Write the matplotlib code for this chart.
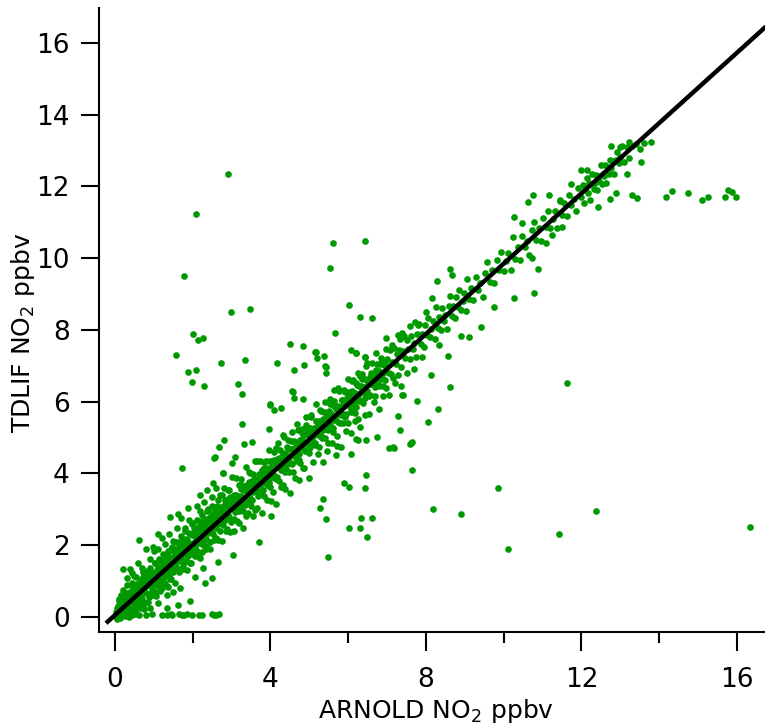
import matplotlib
matplotlib.use('Agg')
import matplotlib.pyplot as plt
import numpy as np

# fitted line (slope, intercept) and the x range it is drawn over
fit_slope = 0.98
fit_intercept = 0.05
fit_x = [-0.23, 17.5]

# dense band, x < 3
band_low = [
    (0.00, 0.02), (0.02, 0.15), (0.05, -0.05), (0.07, 0.30), (0.08, 0.10), (0.10, 0.45), (0.12, -0.02),
    (0.14, 0.22), (0.15, 0.60), (0.17, 0.05), (0.19, 0.35), (0.20, 0.15), (0.22, 0.75), (0.24, 0.28),
    (0.25, 0.05), (0.27, 0.50), (0.29, 0.40), (0.30, 0.18), (0.32, 0.88), (0.34, 0.30), (0.36, 0.55),
    (0.37, 0.12), (0.39, 0.70), (0.41, 0.45), (0.43, 0.25), (0.45, 0.95), (0.47, 0.60), (0.48, 0.38),
    (0.50, 0.78), (0.52, 0.20), (0.54, 0.55), (0.55, 1.10), (0.57, 0.70), (0.59, 0.45), (0.61, 0.88),
    (0.63, 0.30), (0.65, 0.65), (0.67, 1.02), (0.68, 0.80), (0.70, 0.50), (0.72, 1.25), (0.74, 0.72),
    (0.76, 0.95), (0.78, 0.40), (0.80, 0.85), (0.82, 1.15), (0.84, 0.65), (0.86, 1.00), (0.88, 0.55),
    (0.90, 1.35), (0.92, 0.90), (0.94, 1.10), (0.96, 0.75), (0.98, 1.20), (1.00, 0.95), (1.02, 1.50),
    (1.04, 0.70), (1.06, 1.05), (1.08, 1.30), (1.10, 0.85), (1.12, 1.15), (1.14, 1.62), (1.16, 1.00),
    (1.18, 1.35), (1.20, 0.80), (1.22, 1.25), (1.24, 1.75), (1.26, 1.10), (1.28, 1.45), (1.30, 0.95),
    (1.32, 1.60), (1.34, 1.30), (1.36, 1.85), (1.38, 1.15), (1.40, 1.50), (1.42, 1.05), (1.44, 1.40),
    (1.46, 1.95), (1.48, 1.62), (1.50, 1.25), (1.52, 1.80), (1.54, 1.45), (1.56, 2.10), (1.58, 1.35),
    (1.60, 1.70), (1.62, 1.55), (1.64, 1.95), (1.66, 1.25), (1.68, 1.85), (1.70, 2.25), (1.72, 1.60),
    (1.74, 1.45), (1.76, 2.00), (1.78, 1.75), (1.80, 2.40), (1.82, 1.55), (1.84, 1.90), (1.86, 2.15),
    (1.88, 1.70), (1.90, 2.05), (1.92, 1.50), (1.94, 2.30), (1.96, 1.85), (1.98, 2.60), (2.00, 2.05),
    (2.02, 1.75), (2.04, 2.35), (2.06, 1.95), (2.08, 2.20), (2.10, 2.70), (2.12, 1.85), (2.14, 2.40),
    (2.16, 2.10), (2.18, 1.65), (2.20, 2.55), (2.22, 2.25), (2.24, 2.85), (2.26, 2.00), (2.28, 2.45),
    (2.30, 2.15), (2.32, 2.70), (2.34, 1.90), (2.36, 2.55), (2.38, 2.95), (2.40, 2.35), (2.42, 2.65),
    (2.44, 2.10), (2.46, 2.80), (2.48, 2.45), (2.50, 3.10), (2.52, 2.30), (2.54, 2.70), (2.56, 2.55),
    (2.58, 2.95), (2.60, 2.20), (2.62, 2.80), (2.64, 3.25), (2.66, 2.60), (2.68, 2.90), (2.70, 2.40),
    (2.72, 3.05), (2.74, 2.75), (2.76, 3.40), (2.78, 2.55), (2.80, 2.95), (2.82, 3.15), (2.84, 2.70),
    (2.86, 3.00), (2.88, 2.45), (2.90, 3.30), (2.92, 2.85), (2.94, 3.55), (2.96, 3.05), (2.98, 2.65),
    (3.00, 3.20),
]

# dense band, 3 < x < 7.5
band_mid = [
    (3.02, 3.11), (3.05, 2.72), (3.07, 3.41), (3.09, 3.03), (3.12, 3.31), (3.14, 2.68), (3.16, 3.20),
    (3.19, 3.68), (3.21, 3.00), (3.23, 3.37), (3.26, 3.15), (3.28, 3.67), (3.30, 2.94), (3.33, 3.31),
    (3.35, 3.59), (3.37, 2.81), (3.40, 3.69), (3.42, 3.26), (3.44, 4.03), (3.47, 3.21), (3.49, 3.56),
    (3.51, 3.10), (3.54, 3.98), (3.56, 3.47), (3.58, 3.75), (3.61, 2.99), (3.63, 3.84), (3.65, 4.34),
    (3.68, 3.36), (3.70, 3.81), (3.72, 3.81), (3.75, 3.43), (3.77, 4.10), (3.79, 3.72), (3.82, 4.00),
    (3.84, 3.37), (3.86, 3.89), (3.89, 4.36), (3.91, 3.69), (3.93, 4.06), (3.96, 3.83), (3.98, 4.35),
    (4.00, 3.62), (4.03, 4.00), (4.05, 4.27), (4.07, 3.49), (4.10, 4.37), (4.12, 3.94), (4.14, 4.71),
    (4.17, 3.89), (4.19, 4.24), (4.21, 3.78), (4.24, 4.66), (4.26, 4.15), (4.28, 4.43), (4.31, 3.68),
    (4.33, 4.52), (4.35, 5.02), (4.38, 4.05), (4.40, 4.49), (4.42, 4.27), (4.45, 4.69), (4.47, 4.05),
    (4.49, 4.50), (4.52, 4.90), (4.54, 4.28), (4.56, 4.67), (4.59, 4.05), (4.61, 4.90), (4.63, 4.57),
    (4.66, 4.82), (4.68, 4.34), (4.70, 5.21), (4.73, 4.54), (4.75, 4.81), (4.77, 4.30), (4.80, 5.13),
    (4.82, 4.77), (4.84, 4.14), (4.87, 5.07), (4.89, 4.66), (4.91, 5.34), (4.94, 4.84), (4.96, 5.21),
    (4.98, 4.58), (5.01, 5.10), (5.03, 4.73), (5.05, 5.62), (5.08, 4.92), (5.10, 5.11), (5.12, 5.17),
    (5.15, 4.80), (5.17, 5.47), (5.19, 5.09), (5.22, 5.37), (5.24, 4.74), (5.26, 5.25), (5.29, 5.73),
    (5.31, 5.05), (5.33, 5.42), (5.36, 5.20), (5.38, 5.72), (5.40, 4.99), (5.43, 5.37), (5.45, 5.64),
    (5.47, 4.86), (5.50, 5.74), (5.52, 5.31), (5.54, 6.08), (5.57, 5.26), (5.59, 5.61), (5.61, 5.15),
    (5.64, 6.03), (5.66, 5.52), (5.68, 5.80), (5.71, 5.05), (5.73, 5.89), (5.75, 6.39), (5.78, 5.41),
    (5.80, 5.85), (5.82, 5.63), (5.85, 6.06), (5.87, 5.42), (5.89, 5.87), (5.92, 6.27), (5.94, 5.65),
    (5.96, 6.04), (5.99, 5.42), (6.01, 6.27), (6.03, 5.94), (6.06, 6.19), (6.08, 5.71), (6.10, 6.58),
    (6.13, 5.91), (6.15, 6.18), (6.17, 5.68), (6.20, 6.51), (6.22, 6.15), (6.24, 5.52), (6.27, 6.44),
    (6.29, 6.03), (6.31, 6.71), (6.34, 6.26), (6.36, 6.62), (6.38, 5.95), (6.41, 6.42), (6.43, 6.10),
    (6.45, 6.99), (6.48, 6.30), (6.50, 6.48), (6.53, 6.55), (6.56, 6.18), (6.59, 6.81), (6.62, 6.49),
    (6.65, 6.77), (6.68, 6.15), (6.71, 6.68), (6.74, 7.06), (6.77, 6.48), (6.80, 6.86), (6.83, 6.64),
    (6.86, 7.12), (6.89, 6.45), (6.92, 6.83), (6.95, 7.11), (6.98, 6.39), (7.01, 7.20), (7.04, 6.80),
    (7.07, 7.43), (7.10, 6.76), (7.13, 7.12), (7.16, 6.67), (7.19, 7.50), (7.22, 7.05), (7.25, 7.34),
    (7.28, 6.74), (7.31, 7.43), (7.34, 7.74), (7.37, 6.97), (7.40, 7.42), (7.45, 7.23), (7.50, 7.73),
]

# tight core of the band (the solid green strip next to the line)
band_core = [
    (0.05, 0.25), (0.08, 0.03), (0.11, 0.51), (0.14, 0.21), (0.17, 0.47), (0.20, 0.07), (0.23, 0.68),
    (0.26, 0.29), (0.29, 0.44), (0.32, 0.67), (0.35, 0.25), (0.38, 0.63), (0.41, 0.51), (0.44, 0.87),
    (0.47, 0.44), (0.50, 0.77), (0.53, 0.38), (0.56, 0.93), (0.59, 0.72), (0.62, 0.95), (0.65, 0.84),
    (0.68, 0.62), (0.71, 1.10), (0.74, 0.80), (0.77, 1.06), (0.80, 0.66), (0.83, 1.27), (0.86, 0.88),
    (0.89, 1.03), (0.92, 1.26), (0.95, 0.84), (0.98, 1.22), (1.01, 1.14), (1.04, 1.50), (1.07, 1.07),
    (1.10, 1.40), (1.13, 1.01), (1.16, 1.56), (1.19, 1.35), (1.22, 1.58), (1.25, 1.47), (1.28, 1.25),
    (1.31, 1.73), (1.34, 1.43), (1.37, 1.69), (1.40, 1.29), (1.43, 1.90), (1.46, 1.51), (1.49, 1.66),
    (1.52, 1.89), (1.55, 1.47), (1.58, 1.85), (1.61, 1.73), (1.64, 2.09), (1.67, 1.66), (1.70, 1.99),
    (1.73, 1.60), (1.76, 2.15), (1.79, 1.94), (1.82, 2.17), (1.85, 2.07), (1.88, 1.85), (1.91, 2.33),
    (1.94, 2.02), (1.97, 2.28), (2.00, 1.88), (2.03, 2.49), (2.06, 2.10), (2.09, 2.25), (2.12, 2.48),
    (2.15, 2.06), (2.18, 2.44), (2.21, 2.32), (2.24, 2.67), (2.27, 2.24), (2.30, 2.57), (2.33, 2.18),
    (2.36, 2.73), (2.39, 2.52), (2.42, 2.75), (2.45, 2.65), (2.48, 2.43), (2.51, 2.91), (2.54, 2.61),
    (2.57, 2.87), (2.60, 2.47), (2.63, 3.08), (2.66, 2.69), (2.69, 2.84), (2.72, 3.07), (2.75, 2.65),
    (2.78, 3.03), (2.81, 2.91), (2.84, 3.27), (2.87, 2.84), (2.90, 3.17), (2.93, 2.78), (2.96, 3.33),
    (2.99, 3.11), (3.02, 3.24), (3.05, 3.14), (3.08, 2.92), (3.11, 3.40), (3.14, 3.10), (3.17, 3.36),
    (3.20, 2.96), (3.23, 3.57), (3.26, 3.18), (3.29, 3.32), (3.32, 3.55), (3.35, 3.13), (3.38, 3.51),
    (3.41, 3.39), (3.44, 3.75), (3.47, 3.32), (3.50, 3.65), (3.53, 3.26), (3.56, 3.81), (3.59, 3.60),
    (3.62, 3.83), (3.65, 3.73), (3.68, 3.51), (3.71, 3.99), (3.74, 3.69), (3.77, 3.95), (3.80, 3.55),
    (3.83, 4.16), (3.86, 3.77), (3.89, 3.91), (3.92, 4.14), (3.95, 3.72), (3.98, 4.10), (4.01, 3.98),
    (4.04, 4.34), (4.07, 3.91), (4.10, 4.24), (4.13, 3.85), (4.16, 4.40), (4.19, 4.19), (4.22, 4.42),
    (4.25, 4.31), (4.28, 4.10), (4.31, 4.57), (4.34, 4.27), (4.37, 4.53), (4.40, 4.13), (4.43, 4.74),
    (4.46, 4.34), (4.49, 4.48), (4.52, 4.68), (4.55, 4.26), (4.58, 4.64), (4.61, 4.52), (4.64, 4.87),
    (4.67, 4.44), (4.70, 4.77), (4.73, 4.38), (4.76, 4.93), (4.79, 4.72), (4.82, 4.95), (4.85, 4.85),
    (4.88, 4.63), (4.91, 5.11), (4.94, 4.81), (4.97, 5.07), (5.00, 4.67), (5.03, 5.28), (5.06, 4.89),
    (5.09, 5.04), (5.12, 5.27), (5.15, 4.85), (5.18, 5.23), (5.21, 5.11), (5.24, 5.47), (5.27, 5.04),
    (5.30, 5.37), (5.33, 4.98), (5.36, 5.53), (5.39, 5.32), (5.42, 5.55), (5.45, 5.45), (5.48, 5.22),
    (5.51, 5.70), (5.54, 5.40), (5.57, 5.66), (5.60, 5.26), (5.63, 5.87), (5.66, 5.48), (5.69, 5.63),
    (5.72, 5.86), (5.75, 5.44), (5.78, 5.82), (5.81, 5.70), (5.84, 6.06), (5.87, 5.63), (5.90, 5.95),
    (5.93, 5.56), (5.96, 6.11), (5.99, 5.90), (6.02, 6.13), (6.05, 6.03), (6.08, 5.81), (6.11, 6.29),
    (6.14, 5.99), (6.17, 6.25), (6.20, 5.85), (6.23, 6.46), (6.26, 6.07), (6.29, 6.21), (6.32, 6.44),
    (6.35, 6.02), (6.38, 6.40), (6.41, 6.28), (6.44, 6.64), (6.47, 6.21), (6.50, 6.54), (6.53, 6.15),
    (6.56, 6.70), (6.59, 6.49), (6.62, 6.72), (6.65, 6.62), (6.68, 6.40), (6.71, 6.88), (6.74, 6.58),
    (6.77, 6.84), (6.80, 6.44), (6.83, 7.05), (6.86, 6.66), (6.89, 6.80), (6.92, 7.03), (6.95, 6.61),
    (6.98, 6.99),
]

# loose edge of the band on both sides
band_fringe = [
    (0.30, 1.09), (0.35, 0.00), (0.40, 1.34), (0.50, 1.14), (0.55, 0.25), (0.60, 1.49), (0.65, 0.26),
    (0.70, 1.36), (0.75, 0.23), (0.80, 1.88), (0.85, 0.42), (0.90, 1.61), (0.95, 0.62), (1.00, 1.83),
    (1.05, 0.59), (1.10, 1.88), (1.15, 0.73), (1.20, 2.21), (1.25, 0.90), (1.30, 2.02), (1.35, 0.87),
    (1.40, 2.32), (1.45, 1.07), (1.50, 2.12), (1.55, 0.94), (1.60, 2.47), (1.65, 1.33), (1.70, 2.77),
    (1.75, 1.34), (1.80, 2.49), (1.85, 1.30), (1.90, 2.71), (1.95, 1.50), (2.00, 2.63), (2.05, 1.70),
    (2.10, 3.09), (2.15, 1.67), (2.20, 2.96), (2.25, 1.81), (2.30, 3.20), (2.35, 1.97), (2.40, 3.00),
    (2.45, 1.90), (2.50, 3.35), (2.55, 2.15), (2.60, 3.60), (2.65, 2.15), (2.70, 3.40), (2.75, 2.13),
    (2.80, 3.59), (2.85, 2.39), (2.90, 3.55), (2.95, 2.36), (3.00, 3.89), (3.06, 2.40), (3.12, 3.86),
    (3.18, 2.62), (3.24, 3.85), (3.30, 2.48), (3.36, 4.19), (3.42, 2.90), (3.48, 4.01), (3.54, 2.82),
    (3.60, 4.36), (3.66, 3.04), (3.72, 4.36), (3.78, 2.90), (3.84, 4.31), (3.90, 3.25), (3.96, 4.65),
    (4.02, 3.24), (4.08, 4.60), (4.14, 3.16), (4.20, 4.85), (4.26, 3.62), (4.32, 5.08), (4.38, 3.56),
    (4.44, 4.92), (4.50, 3.46), (4.56, 5.15), (4.62, 3.88), (4.68, 5.39), (4.74, 3.82), (4.80, 5.25),
    (4.86, 4.16), (4.92, 5.57), (4.98, 3.88), (5.04, 5.57), (5.10, 4.33), (5.16, 5.93), (5.22, 4.55),
    (5.28, 5.77), (5.34, 4.33), (5.40, 6.00), (5.46, 4.62), (5.52, 5.94), (5.58, 4.84), (5.64, 6.33),
    (5.70, 4.76), (5.76, 6.29), (5.82, 4.75), (5.88, 6.33), (5.94, 5.17), (6.00, 6.63), (6.06, 5.14),
    (6.12, 6.60), (6.18, 5.46), (6.24, 6.79), (6.30, 5.30), (6.36, 6.78), (6.42, 5.62), (6.48, 7.08),
    (6.54, 5.66), (6.60, 7.07), (6.66, 5.98), (6.72, 7.36), (6.78, 5.81), (6.84, 7.23), (6.90, 6.15),
    (6.96, 7.47), (7.04, 6.20), (7.12, 7.58), (7.20, 6.51), (7.28, 7.86), (7.36, 6.44), (7.44, 7.84),
    (7.52, 6.80), (7.60, 8.10), (7.70, 6.90), (7.80, 8.14), (7.90, 7.24), (8.00, 8.51),
]

# band, x > 7.5
band_high = [
    (7.54, 7.48), (7.58, 7.18), (7.62, 7.84), (7.66, 7.48), (7.70, 7.65), (7.74, 7.24), (7.78, 7.89),
    (7.82, 8.16), (7.86, 7.60), (7.90, 7.89), (7.94, 7.53), (7.98, 8.15), (8.02, 7.86), (8.06, 8.33),
    (8.10, 7.79), (8.14, 8.03), (8.18, 8.25), (8.22, 7.76), (8.26, 8.64), (8.30, 8.06), (8.34, 8.37),
    (8.38, 8.01), (8.42, 8.62), (8.46, 8.26), (8.50, 8.43), (8.54, 8.02), (8.58, 8.68), (8.62, 8.95),
    (8.66, 8.39), (8.70, 8.68), (8.74, 8.32), (8.78, 8.93), (8.82, 8.64), (8.86, 9.11), (8.90, 8.57),
    (8.94, 8.81), (8.98, 9.03), (9.02, 8.54), (9.06, 9.43), (9.10, 8.85), (9.16, 9.18), (9.22, 8.84),
    (9.28, 9.47), (9.34, 9.12), (9.40, 9.31), (9.46, 8.92), (9.52, 9.60), (9.58, 9.89), (9.64, 9.35),
    (9.70, 9.66), (9.76, 9.31), (9.82, 9.95), (9.88, 9.68), (9.94, 10.17), (10.00, 9.65), (10.06, 9.91),
    (10.12, 10.15), (10.18, 9.68), (10.24, 10.59), (10.30, 9.98), (10.36, 10.30), (10.42, 9.96),
    (10.48, 10.62), (10.54, 10.30), (10.60, 10.49), (10.66, 10.10), (10.72, 10.78), (10.78, 11.01),
    (10.84, 10.52), (10.90, 10.83), (10.96, 10.49), (11.02, 11.13), (11.08, 10.86), (11.14, 11.32),
    (11.20, 10.83), (11.26, 11.08), (11.32, 11.32), (11.38, 10.85), (11.44, 11.61), (11.50, 11.20),
    (11.56, 11.53), (11.62, 11.19), (11.68, 11.75), (11.74, 11.48), (11.80, 11.66), (11.86, 11.32),
    (11.92, 11.95), (12.00, 11.71), (12.04, 12.05), (12.07, 11.54), (12.10, 11.91), (12.13, 12.24),
    (12.16, 11.82), (12.19, 12.10), (12.22, 11.63), (12.25, 12.06), (12.28, 12.34), (12.31, 11.92),
    (12.34, 12.10), (12.37, 12.32), (12.40, 11.90), (12.43, 12.28), (12.46, 12.14), (12.49, 12.59),
    (12.52, 12.07), (12.55, 12.35), (12.58, 12.28), (12.61, 12.59), (12.64, 12.09), (12.67, 12.55),
    (12.70, 12.35), (12.73, 12.75), (12.76, 12.51), (12.80, 12.71), (12.84, 12.36), (12.88, 12.73),
    (12.92, 12.96), (12.96, 12.65), (13.00, 12.81), (13.05, 13.14), (13.10, 12.69), (13.16, 13.09),
    (13.22, 13.24), (13.30, 13.14), (13.40, 13.18), (13.50, 13.05), (13.60, 13.20), (13.79, 13.24),
]

# the run of points lying on y ~ 0 and the low branch under the band
floor_row = [
    (0.05, 0.04), (0.15, 0.06), (0.25, 0.03), (0.35, 0.07), (0.45, 0.05), (0.55, 0.08), (0.62, 0.05),
    (0.80, 0.06), (0.95, 0.08), (1.21, 0.06), (1.34, 0.05), (1.44, 0.08), (1.47, 0.04), (1.65, 0.07),
    (1.72, 0.05), (1.78, 0.06), (1.85, 0.07), (1.98, 0.05), (2.16, 0.06), (2.24, 0.04), (2.50, 0.07),
    (2.55, 0.05), (2.60, 0.06), (2.68, 0.08),
    (0.57, 0.56), (0.72, 0.39), (0.90, 0.25), (1.34, 0.61), (1.36, 0.84), (1.67, 0.81), (1.62, 0.33),
    (1.93, 0.45), (1.34, 0.25), (2.32, 0.95), (2.50, 1.09), (2.65, 1.53), (3.04, 1.73), (2.26, 1.37),
    (1.10, 0.40), (1.50, 0.70), (2.05, 1.10), (0.40, 0.10),
]

# points well away from the band
outliers = [
    (2.91, 12.35), (2.09, 11.23), (1.78, 9.51), (5.62, 10.43), (6.42, 10.48), (5.52, 9.73),
    (2.99, 8.50), (3.48, 8.59), (6.03, 8.70), (6.31, 8.36), (6.62, 8.33), (2.01, 7.89), (2.14, 7.72),
    (2.27, 7.78), (1.57, 7.30), (1.88, 6.83), (2.09, 6.89), (1.98, 6.55), (2.29, 6.44), (2.73, 7.08),
    (3.35, 7.16), (3.17, 6.49), (3.27, 6.22), (4.18, 7.08), (4.51, 7.61), (4.85, 7.55), (4.61, 6.89),
    (4.87, 7.02), (4.59, 6.27), (4.61, 6.10), (3.99, 5.91), (5.67, 7.92), (5.15, 7.39), (5.21, 7.22),
    (5.39, 7.28), (5.41, 7.00), (5.44, 6.80), (6.08, 7.44), (6.19, 7.36), (6.42, 7.25), (1.73, 4.15),
    (0.62, 2.15), (11.62, 6.52), (9.85, 3.60), (8.17, 3.01), (8.89, 2.87), (12.37, 2.95), (11.42, 2.31),
    (10.10, 1.90), (16.34, 2.51), (5.49, 1.67), (6.49, 2.23), (6.31, 2.48), (6.03, 2.48), (5.44, 2.73),
    (6.60, 2.76), (6.34, 2.76), (5.28, 3.04), (5.36, 3.29), (7.65, 4.10), (8.30, 5.80), (8.04, 5.44),
    (7.78, 6.02), (8.63, 6.41), (7.32, 5.21), (7.60, 4.82), (7.65, 4.88), (7.06, 4.71), (7.19, 4.71),
    (6.47, 3.96), (6.42, 3.60), (5.88, 3.73), (6.01, 3.62), (6.24, 4.93), (6.06, 4.54), (6.75, 5.02),
    (7.27, 5.60), (7.42, 6.19), (4.02, 2.82), (3.71, 2.09), (14.18, 11.71), (14.33, 11.87),
    (14.74, 11.82), (15.10, 11.62), (15.26, 11.71), (15.70, 11.71), (15.77, 11.90), (15.88, 11.85),
    (15.98, 11.71), (13.30, 11.76), (13.43, 11.68), (10.77, 9.03), (10.88, 9.70),
    (0.21, 1.34), (0.44, 1.23), (0.98, 1.95), (1.11, 2.31), (1.41, 2.79), (1.62, 2.87), (1.88, 3.04),
    (2.19, 3.40), (2.37, 3.54), (2.58, 4.46), (2.79, 4.01), (3.09, 4.46), (2.52, 3.73), (2.68, 4.74),
    (2.81, 4.93), (2.55, 4.43), (3.99, 5.94), (4.55, 6.30), (4.84, 6.07), (3.27, 5.38), (2.78, 4.01),
    (3.01, 4.29), (3.32, 4.82), (3.52, 4.88), (3.96, 5.24), (4.09, 5.77), (4.27, 5.83), (5.17, 7.38),
    (5.43, 6.97), (6.20, 7.35), (6.43, 7.24), (6.97, 7.77), (7.38, 7.91), (7.72, 8.22), (7.14, 4.74),
    (7.62, 4.85), (7.38, 6.19), (6.20, 4.96), (6.46, 4.93), (5.68, 4.51), (10.75, 11.76), (11.16, 11.76),
    (10.62, 11.56), (10.26, 11.15), (10.47, 10.98), (8.62, 9.70), (8.67, 9.53), (8.28, 9.36),
    (8.15, 8.89), (10.26, 8.89), (9.75, 8.64), (9.41, 8.08), (9.11, 7.80), (8.90, 7.83), (8.57, 7.27),
    (8.33, 7.58), (8.13, 6.74), (12.76, 13.12), (12.99, 13.10), (11.99, 12.45), (12.14, 12.45),
    (11.45, 11.59), (11.73, 12.06), (12.42, 11.43), (12.73, 11.65), (12.89, 11.81), (13.17, 12.34),
    (13.53, 12.68), (13.22, 12.79), (11.50, 10.87), (11.24, 10.64), (11.09, 10.42), (10.73, 10.00),
]

x_ticks = [0, 4, 8, 12, 16]
x_minor = [2, 6, 10, 14]
y_ticks = [0, 2, 4, 6, 8, 10, 12, 14, 16]

green = '#009900'

fig = plt.figure(figsize=(7.65, 7.27), dpi=100)
ax = fig.add_axes([0.1294, 0.1307, 0.8706, 0.858])

for group in (band_low, band_core, band_fringe, band_mid, band_high, floor_row, outliers):
    pts = np.array(group)
    ax.scatter(pts[:, 0], pts[:, 1], s=23, color=green, linewidths=0, zorder=2)

lx = np.array(fit_x)
ax.plot(lx, fit_slope * lx + fit_intercept, color='black', lw=3.2, zorder=3, solid_capstyle='butt')

ax.set_xlim(-0.41, 16.72)
ax.set_ylim(-0.42, 16.97)

ax.spines['top'].set_visible(False)
ax.spines['right'].set_visible(False)
for s in ('left', 'bottom'):
    ax.spines[s].set_linewidth(1.5)

ax.set_xticks(x_ticks)
ax.set_xticks(x_minor, minor=True)
ax.set_yticks(y_ticks)
ax.tick_params(axis='x', which='major', direction='out', length=14, width=1.5, pad=11, labelsize=19)
ax.tick_params(axis='x', which='minor', direction='out', length=8, width=1.5)
ax.tick_params(axis='y', which='major', direction='out', length=13, width=1.5, pad=8, labelsize=19)

ax.set_xlabel('ARNOLD NO$_2$ ppbv', fontsize=18)
ax.set_ylabel('TDLIF NO$_2$ ppbv', fontsize=18)
ax.xaxis.set_label_coords(0.506, -0.104)
ax.yaxis.set_label_coords(-0.093, 0.479)

fig.savefig('out.png', dpi=100)
plt.close(fig)
